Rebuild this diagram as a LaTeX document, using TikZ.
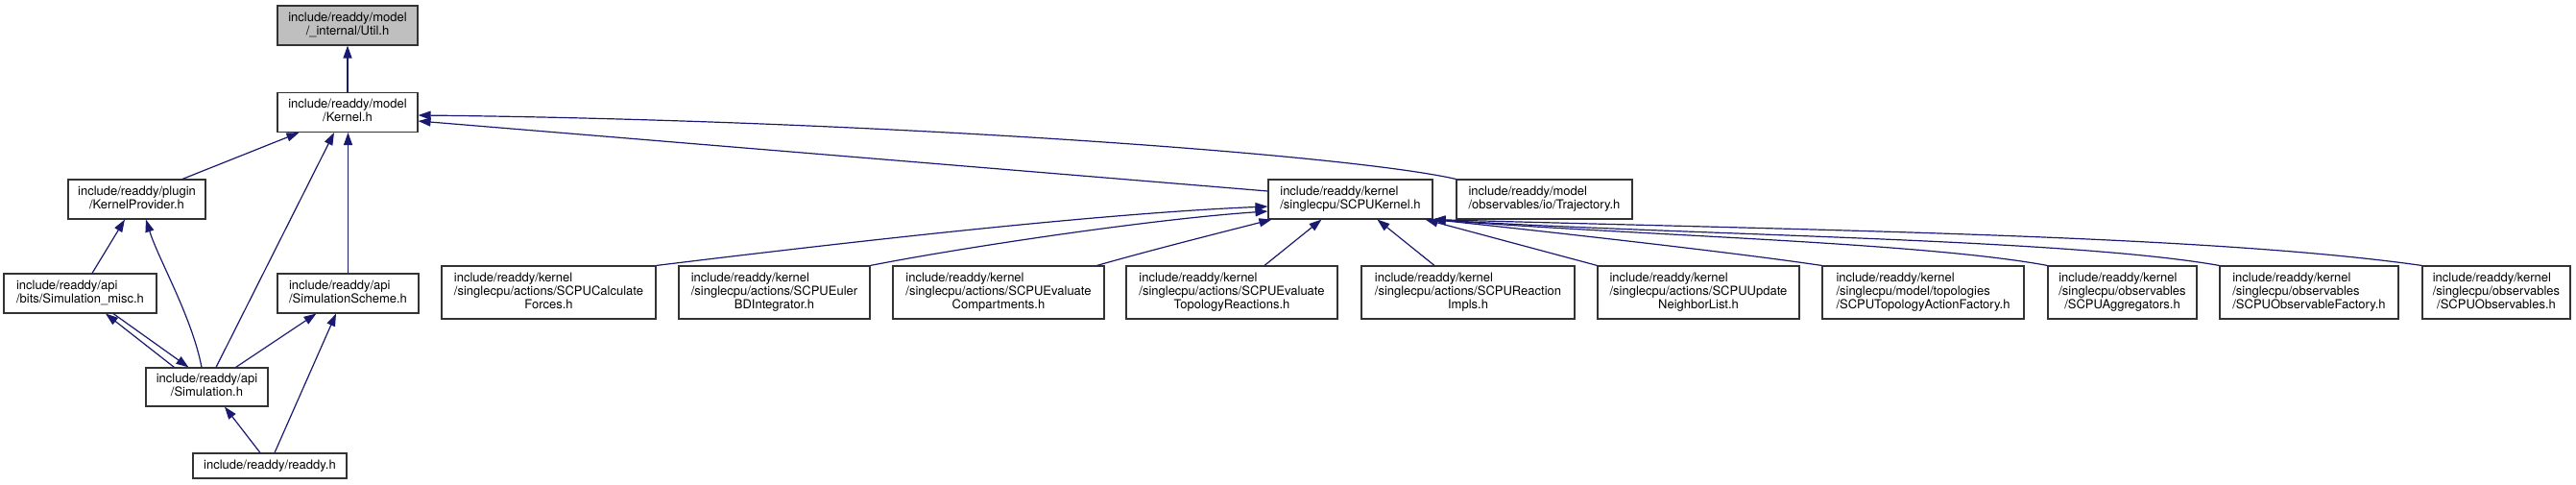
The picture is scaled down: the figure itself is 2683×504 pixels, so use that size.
\documentclass[tikz,border=0pt]{standalone}
\usepackage{fontspec}
\setmainfont{TeX Gyre Heros}
\usetikzlibrary{arrows.meta,calc}
\definecolor{edgeblue}{HTML}{191970}
\definecolor{utilgray}{HTML}{BFBFBF}
\newcommand{\twol}[2]{\begin{tabular}{@{}l@{}}#1\\\multicolumn{1}{@{}c@{}}{#2}\end{tabular}}
\newcommand{\threel}[3]{\begin{tabular}{@{}l@{}}#1\\#2\\\multicolumn{1}{@{}c@{}}{#3}\end{tabular}}
\begin{document}
\begin{tikzpicture}[x=1pt,y=-1pt,
  box/.style={draw=black!80,line width=1.1pt,fill=white,inner sep=0pt,font=\fontsize{13}{14}\selectfont},
  edge/.style={draw=edgeblue,line width=1.2pt,-{Triangle[length=13pt,width=9pt]}}]
\useasboundingbox (0,0) rectangle (2683,504);
% nodes
\node[box,fill=utilgray,minimum width=146pt,minimum height=41pt] (util) at (362,26.5) {\twol{include/readdy/model}{/\_internal/Util.h}};
\node[box,minimum width=146pt,minimum height=41pt] (kernel) at (362,117) {\twol{include/readdy/model}{/Kernel.h}};
\node[box,minimum width=143pt,minimum height=41pt] (kprov) at (142.5,207.5) {\twol{include/readdy/plugin}{/KernelProvider.h}};
\node[box,minimum width=159pt,minimum height=41pt] (simmisc) at (83.5,305.5) {\twol{include/readdy/api}{/bits/Simulation\_misc.h}};
\node[box,minimum width=147pt,minimum height=41pt] (simscheme) at (362.5,305.5) {\twol{include/readdy/api}{/SimulationScheme.h}};
\node[box,minimum width=127pt,minimum height=40pt] (sim) at (215.5,403) {\twol{include/readdy/api}{/Simulation.h}};
\node[box,minimum width=160pt,minimum height=26pt] (readdy) at (281,485) {include/readdy/readdy.h};
\node[box,minimum width=171pt,minimum height=41pt] (scpukernel) at (1406.5,207.5) {\twol{include/readdy/kernel}{/singlecpu/SCPUKernel.h}};
\node[box,minimum width=183pt,minimum height=41pt] (traj) at (1608.5,207.5) {\twol{include/readdy/model}{/observables/io/Trajectory.h}};
\node[box,minimum width=223pt,minimum height=55pt] (calcforces) at (571.5,304.5) {\threel{include/readdy/kernel}{/singlecpu/actions/SCPUCalculate}{Forces.h}};
\node[box,minimum width=199pt,minimum height=55pt] (eulerbd) at (806.5,304.5) {\threel{include/readdy/kernel}{/singlecpu/actions/SCPUEuler}{BDIntegrator.h}};
\node[box,minimum width=220pt,minimum height=55pt] (evalcomp) at (1040,304.5) {\threel{include/readdy/kernel}{/singlecpu/actions/SCPUEvaluate}{Compartments.h}};
\node[box,minimum width=220pt,minimum height=55pt] (evaltopo) at (1283,304.5) {\threel{include/readdy/kernel}{/singlecpu/actions/SCPUEvaluate}{TopologyReactions.h}};
\node[box,minimum width=222pt,minimum height=55pt] (reactimpls) at (1529,304.5) {\threel{include/readdy/kernel}{/singlecpu/actions/SCPUReaction}{Impls.h}};
\node[box,minimum width=210pt,minimum height=55pt] (updnl) at (1769,304.5) {\threel{include/readdy/kernel}{/singlecpu/actions/SCPUUpdate}{NeighborList.h}};
\node[box,minimum width=210pt,minimum height=55pt] (topoaf) at (2003,304.5) {\threel{include/readdy/kernel}{/singlecpu/model/topologies}{/SCPUTopologyActionFactory.h}};
\node[box,minimum width=155pt,minimum height=55pt] (aggr) at (2210.5,304.5) {\threel{include/readdy/kernel}{/singlecpu/observables}{/SCPUAggregators.h}};
\node[box,minimum width=186pt,minimum height=55pt] (obsfac) at (2405,304.5) {\threel{include/readdy/kernel}{/singlecpu/observables}{/SCPUObservableFactory.h}};
\node[box,minimum width=154pt,minimum height=55pt] (obs) at (2600,304.5) {\threel{include/readdy/kernel}{/singlecpu/observables}{/SCPUObservables.h}};
% edges
\draw[edge] (kernel.north) -- (util.south);
\draw[edge] ($(kprov.north)+(47.5,0)$) -- ($(kernel.south west)+(23,0)$);
\draw[edge] ($(sim.north)+(9.5,0)$) -- ($(kernel.south)+(-14,0)$);
\draw[edge] (simscheme.north) -- (simscheme.north |- kernel.south);
\draw[edge] ($(scpukernel.west)+(0,-8.5)$) -- ($(kernel.east)+(0,9)$);
\draw[edge] (traj.north west) .. controls (1400,160) and (900,125) .. ($(kernel.east)+(0,3)$);
\draw[edge] ($(simmisc.north)+(12.5,0)$) -- ($(kprov.south)+(-12.5,0)$);
\draw[edge] ($(sim.north)+(-5.5,0)$) .. controls (200,330) and (165,270) .. ($(kprov.south)+(9.5,0)$);
\draw[edge] ($(sim.north west)+(30,0)$) -- ($(simmisc.south)+(26.5,0)$);
\draw[edge] ($(simmisc.south)+(34.5,0)$) -- ($(sim.north west)+(45,0)$);
\draw[edge] ($(sim.north east)+(-34,0)$) -- ($(simscheme.south west)+(41,0)$);
\draw[edge] ($(readdy.north)+(-10,0)$) -- ($(sim.south)+(18.5,0)$);
\draw[edge] ($(readdy.north)+(5,0)$) -- ($(simscheme.south)+(-12.5,0)$);
\draw[edge] (calcforces.north east) .. controls (900,250) and (1150,222) .. ($(scpukernel.west)+(0,7.5)$);
\draw[edge] (eulerbd.north east) .. controls (1000,258) and (1200,228) .. ($(scpukernel.west)+(0,12.5)$);
\draw[edge] ($(evalcomp.north east)+(-8,0)$) .. controls (1200,260) and (1280,240) .. ($(scpukernel.south west)+(4,0)$);
\draw[edge] ($(evaltopo.north)+(34,0)$) -- ($(scpukernel.south west)+(56,0)$);
\draw[edge] ($(reactimpls.north)+(-35,0)$) -- ($(scpukernel.south west)+(114,0)$);
\draw[edge] (updnl.north west) -- ($(scpukernel.south east)+(-8,0)$);
\draw[edge] (topoaf.north west) .. controls (1800,262) and (1600,240) .. (scpukernel.south east);
\draw[edge] (aggr.north west) .. controls (2000,252) and (1700,245) .. (scpukernel.south east);
\draw[edge] (obsfac.north west) .. controls (2150,248) and (1750,245) .. (scpukernel.south east);
\draw[edge] (obs.north west) .. controls (2300,245) and (1900,240) .. (scpukernel.south east);
\end{tikzpicture}
\end{document}
